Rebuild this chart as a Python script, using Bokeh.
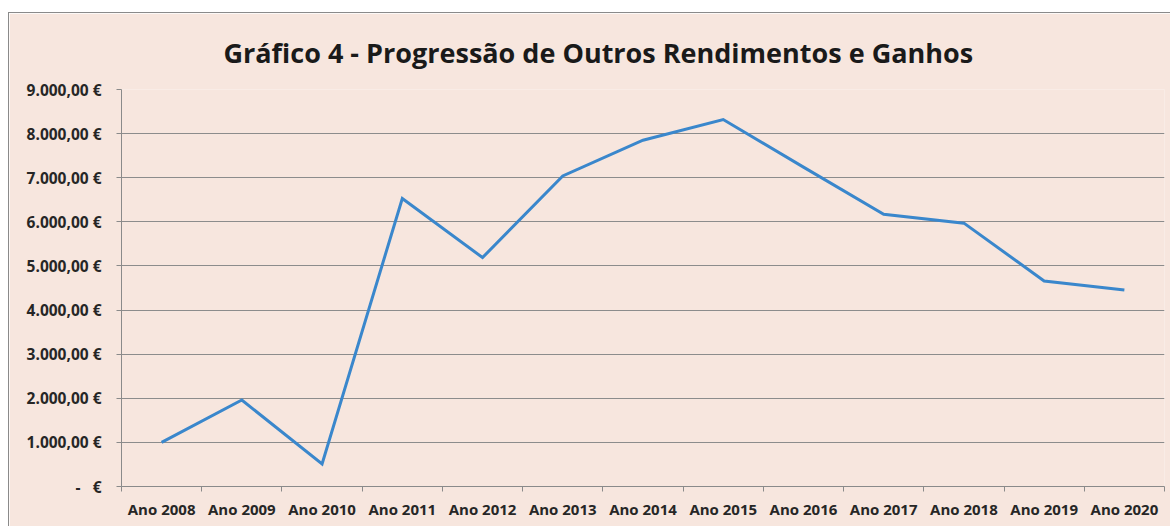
from bokeh.plotting import figure
from bokeh.models import FixedTicker, Range1d, Title
from bokeh.embed import file_html
from bokeh.resources import INLINE

years = [2008, 2009, 2010, 2011, 2012, 2013, 2014, 2015, 2016, 2017, 2018, 2019, 2020]
values = [1000, 1960, 510, 6530, 5190, 7040, 7850, 8320, 7240, 6170, 5970, 4660, 4455]
x_labels = ["Ano %d" % y for y in years]
y_ticks = [0, 1000, 2000, 3000, 4000, 5000, 6000, 7000, 8000, 9000]
y_labels = ["-\u00a0\u00a0\u00a0€", "1.000,00 €", "2.000,00 €", "3.000,00 €", "4.000,00 €", "5.000,00 €",
            "6.000,00 €", "7.000,00 €", "8.000,00 €", "9.000,00 €"]
title_text = "Gráfico 4 - Progressão de Outros Rendimentos e Ganhos"

BG = "#f7e6de"
FONT = "Open Sans"

p = figure(width=1162, height=514, output_backend="svg", toolbar_location=None,
           x_range=Range1d(years[0] - 0.5, years[-1] + 0.5), y_range=Range1d(0, 9000),
           min_border_left=112, min_border_right=7, min_border_top=75, min_border_bottom=41,
           background_fill_color=BG, border_fill_color=BG, outline_line_color=None)
p.margin = (12, 0, 0, 8)
p.styles = {"border-top": "1px solid #8a8a8a", "border-left": "1px solid #8a8a8a"}

t = Title(text=title_text, align="left", offset=102, text_font=FONT, text_font_size="27px",
          text_font_style="bold", text_color="#1a1a1a", standoff=37)
p.title = t

p.line(years, values, line_color="#3a87cc", line_width=3, line_join="miter")

# x axis
xt = FixedTicker(ticks=years, minor_ticks=[y - 0.5 for y in years] + [years[-1] + 0.5])
p.xaxis.ticker = xt
p.xaxis.major_label_overrides = {y: l for y, l in zip(years, x_labels)}
p.xaxis.major_tick_line_color = None
p.xaxis.minor_tick_line_color = "#8a8a8a"
p.xaxis.minor_tick_out = 5
p.xaxis.minor_tick_in = 0
p.xaxis.axis_line_color = "#8a8a8a"
p.xaxis.major_label_text_font = FONT
p.xaxis.major_label_text_font_size = "15px"
p.xaxis.major_label_text_font_style = "bold"
p.xaxis.major_label_text_color = "#262626"
p.xaxis.major_label_standoff = 6
p.xgrid.grid_line_color = None

# y axis
p.yaxis.ticker = FixedTicker(ticks=y_ticks, minor_ticks=[])
p.yaxis.major_label_overrides = {v: l for v, l in zip(y_ticks, y_labels)}
p.yaxis.axis_line_color = "#8a8a8a"
p.yaxis.major_tick_line_color = "#8a8a8a"
p.yaxis.major_tick_out = 5
p.yaxis.major_tick_in = 0
p.yaxis.major_label_text_font = FONT
p.yaxis.major_label_text_font_size = "15.5px"
p.yaxis.major_label_text_font_style = "bold"
p.yaxis.major_label_text_color = "#262626"
p.yaxis.major_label_standoff = 15
p.ygrid.grid_line_color = "#8c8c8c"
p.ygrid.grid_line_width = 1

open("out.html", "w").write(file_html(p, INLINE))
